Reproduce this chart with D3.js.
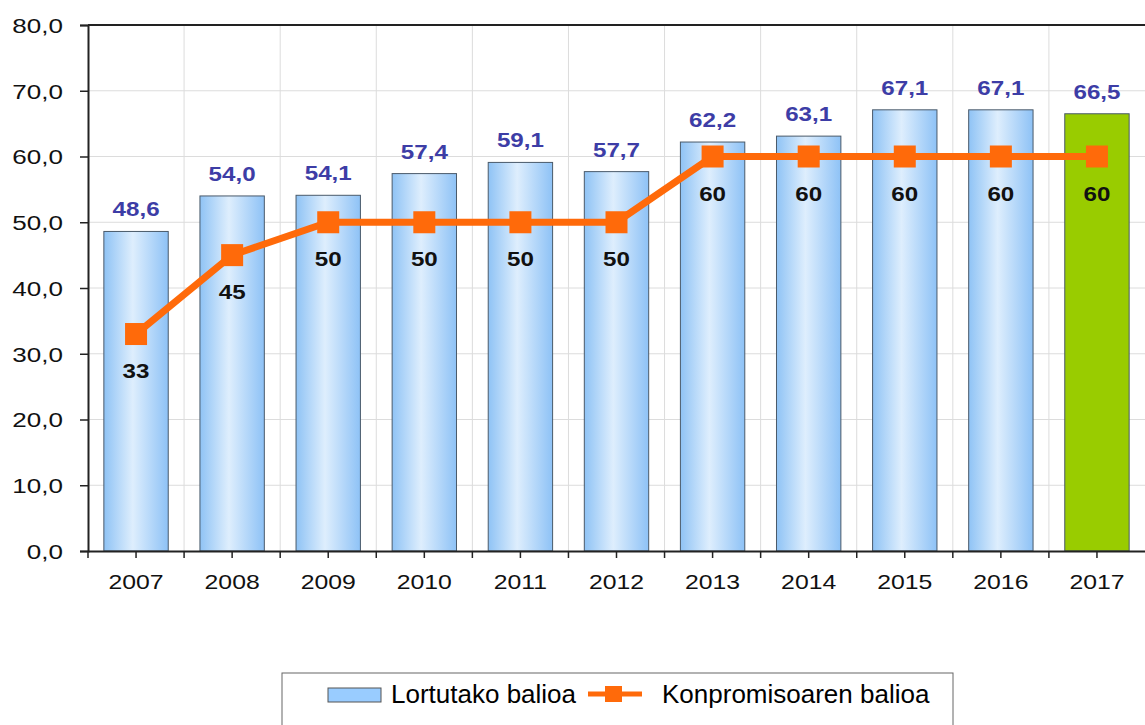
<!DOCTYPE html>
<html>
<head>
<meta charset="utf-8">
<script src="https://cdn.jsdelivr.net/npm/d3@7"></script>
<style>
  body { margin: 0; background: #fff; }
  svg { font-family: "Liberation Sans", Arial, sans-serif; }
</style>
</head>
<body>
<div id="chart"></div>
<script>
var years = ["2007", "2008", "2009", "2010", "2011", "2012", "2013", "2014", "2015", "2016", "2017"];
var achieved = [48.6, 54.0, 54.1, 57.4, 59.1, 57.7, 62.2, 63.1, 67.1, 67.1, 66.5];
var commitment = [33, 45, 50, 50, 50, 50, 60, 60, 60, 60, 60];
var yTicks = [0, 10, 20, 30, 40, 50, 60, 70, 80];
var legendLabels = ["Lortutako balioa", "Konpromisoaren balioa"];

var width = 1145, height = 725;
var plotLeft = 88, plotRight = 1145, plotTop = 25, plotBottom = 551;
var stretch = 1.24; // chart text in the picture is widened

var svg = d3.select("#chart").append("svg")
  .attr("width", width)
  .attr("height", height);

var defs = svg.append("defs");
var grad = defs.append("linearGradient").attr("id", "barGrad")
  .attr("x1", "0%").attr("x2", "100%").attr("y1", "0%").attr("y2", "0%");
grad.append("stop").attr("offset", "0%").attr("stop-color", "#8fc3f5");
grad.append("stop").attr("offset", "45%").attr("stop-color", "#deeefd");
grad.append("stop").attr("offset", "100%").attr("stop-color", "#8ec2f6");

var x = d3.scaleBand().domain(years).range([plotLeft, plotRight]).paddingInner(0.33).paddingOuter(0.165);
var xb = d3.scaleBand().domain(years).range([plotLeft, plotRight]);
var y = d3.scaleLinear().domain([0, 80]).range([plotBottom, plotTop]);

var fmt = function(v) { return d3.format(".1f")(v).replace(".", ","); };
var place = function(px, py) { return "translate(" + px + "," + py + ") scale(" + stretch + ",1)"; };

//gridlines
svg.append("g").selectAll("line")
  .data(yTicks.slice(1, -1))
  .join("line")
  .attr("x1", plotLeft).attr("x2", plotRight)
  .attr("y1", function(d) { return y(d); }).attr("y2", function(d) { return y(d); })
  .attr("stroke", "#dcdcdc").attr("stroke-width", 1);

svg.append("g").selectAll("line")
  .data(years.slice(1))
  .join("line")
  .attr("x1", function(d) { return xb(d); }).attr("x2", function(d) { return xb(d); })
  .attr("y1", plotTop).attr("y2", plotBottom)
  .attr("stroke", "#dcdcdc").attr("stroke-width", 1);

//bars
svg.append("g").selectAll("rect")
  .data(achieved)
  .join("rect")
  .attr("x", function(d, i) { return x(years[i]); })
  .attr("y", function(d) { return y(d); })
  .attr("width", x.bandwidth())
  .attr("height", function(d) { return plotBottom - y(d); })
  .attr("fill", function(d, i) { return i == years.length - 1 ? "#99cc00" : "url(#barGrad)"; })
  .attr("stroke", "#4a5a6a")
  .attr("stroke-width", 1);

//bar value labels
svg.append("g").selectAll("text")
  .data(achieved)
  .join("text")
  .attr("transform", function(d, i) { return place(x(years[i]) + x.bandwidth() / 2, y(d) - 15); })
  .attr("text-anchor", "middle")
  .attr("font-size", 19.5)
  .attr("font-weight", "bold")
  .attr("fill", "#3d3da6")
  .text(function(d) { return fmt(d); });

//axes
var yAxis = d3.axisLeft(y).tickValues(yTicks).tickSize(8).tickFormat(fmt);
var gy = svg.append("g").attr("transform", "translate(" + plotLeft + ",0)").call(yAxis);
gy.select(".domain").attr("stroke", "#222").attr("stroke-width", 2);
gy.selectAll(".tick line").attr("stroke", "#222").attr("stroke-width", 1.5);
gy.selectAll("text").attr("font-size", 21).attr("font-family", "Liberation Sans, Arial, sans-serif")
  .attr("fill", "#111").attr("x", -25 / stretch).attr("dy", "0.35em")
  .attr("transform", "scale(" + stretch + ",1)");

var xAxis = d3.axisBottom(xb).tickSize(0).tickSizeOuter(0);
var gx = svg.append("g").attr("transform", "translate(0," + plotBottom + ")").call(xAxis);
gx.select(".domain").attr("stroke", "#222").attr("stroke-width", 2);
gx.selectAll("text").attr("font-size", 20).attr("font-family", "Liberation Sans, Arial, sans-serif")
  .attr("fill", "#111").attr("y", 38).attr("dy", null)
  .attr("transform", "scale(" + stretch + ",1)");

//x ticks at centres and boundaries
var tickX = years.map(function(d) { return xb(d) + xb.bandwidth() / 2; })
  .concat(years.map(function(d) { return xb(d); }));
svg.append("g").selectAll("line")
  .data(tickX)
  .join("line")
  .attr("x1", function(d) { return d; }).attr("x2", function(d) { return d; })
  .attr("y1", plotBottom).attr("y2", plotBottom + 7)
  .attr("stroke", "#222").attr("stroke-width", 1.5);

//top border
svg.append("line")
  .attr("x1", plotLeft).attr("x2", plotRight)
  .attr("y1", plotTop).attr("y2", plotTop)
  .attr("stroke", "#222").attr("stroke-width", 2);

//commitment line
var cx = function(i) { return xb(years[i]) + xb.bandwidth() / 2; };
var line = d3.line()
  .x(function(d, i) { return cx(i); })
  .y(function(d) { return y(d); });

svg.append("path")
  .datum(commitment)
  .attr("d", line)
  .attr("fill", "none")
  .attr("stroke", "#ff6a0a")
  .attr("stroke-width", 7);

svg.append("g").selectAll("rect")
  .data(commitment)
  .join("rect")
  .attr("x", function(d, i) { return cx(i) - 11; })
  .attr("y", function(d) { return y(d) - 11; })
  .attr("width", 22).attr("height", 22)
  .attr("fill", "#ff6a0a");

svg.append("g").selectAll("text")
  .data(commitment)
  .join("text")
  .attr("transform", function(d, i) { return place(cx(i), y(d) + 44); })
  .attr("text-anchor", "middle")
  .attr("font-size", 19.5)
  .attr("font-weight", "bold")
  .attr("fill", "#111")
  .text(function(d) { return d; });

//legend
var lg = svg.append("g");
lg.append("rect")
  .attr("x", 282).attr("y", 673).attr("width", 671).attr("height", 60)
  .attr("fill", "#fff").attr("stroke", "#666").attr("stroke-width", 1);
lg.append("rect")
  .attr("x", 328).attr("y", 688).attr("width", 53).attr("height", 14)
  .attr("fill", "#99ccff").attr("stroke", "#555").attr("stroke-width", 1);
lg.append("text")
  .attr("x", 391).attr("y", 703)
  .attr("font-size", 26).attr("fill", "#000")
  .text(legendLabels[0]);
lg.append("line")
  .attr("x1", 588).attr("x2", 642).attr("y1", 694).attr("y2", 694)
  .attr("stroke", "#ff6a0a").attr("stroke-width", 5);
lg.append("rect")
  .attr("x", 605).attr("y", 686).attr("width", 17).attr("height", 16)
  .attr("fill", "#ff6a0a");
lg.append("text")
  .attr("x", 662).attr("y", 703)
  .attr("font-size", 26).attr("fill", "#000")
  .text(legendLabels[1]);
</script>
</body>
</html>
